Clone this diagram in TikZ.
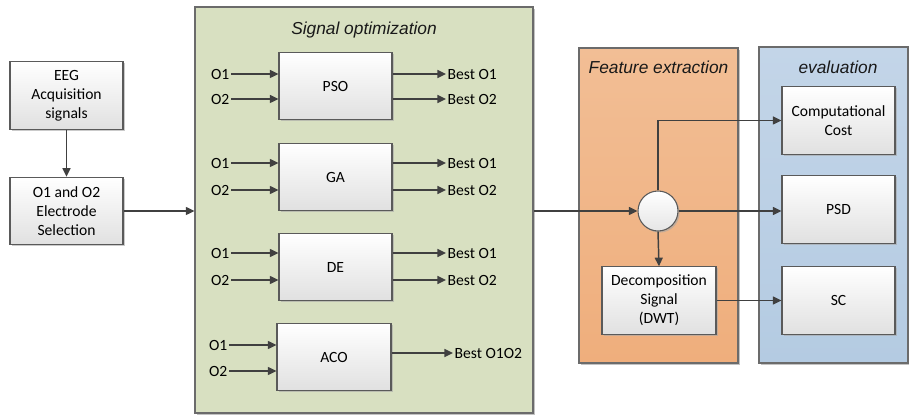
\documentclass[tikz,border=0pt]{standalone}
\usepackage{fontspec}
\setmainfont{Carlito}
\newfontfamily\titlefont{Liberation Sans}
\usetikzlibrary{arrows.meta,shadows}
\definecolor{linec}{HTML}{404040}
\definecolor{edgec}{HTML}{5A5A5A}
\definecolor{greenp}{HTML}{D8E0C1}
\definecolor{orangep}{HTML}{EFAE7C}
\definecolor{orangetop}{HTML}{F2BE95}
\definecolor{bluep}{HTML}{B4CBE2}
\definecolor{bluetop}{HTML}{C3D5E8}
\begin{document}
\begin{tikzpicture}[x=0.75pt,y=-0.75pt,
  txt/.style={font=\fontsize{11.7}{14.3}\selectfont, text=black},
  box/.style={txt, draw=edgec, line width=0.8pt, top color=white, bottom color=black!12,
    minimum width=84.75pt, minimum height=50.5pt, align=center, inner sep=1pt,
    drop shadow={shadow xshift=1.2pt, shadow yshift=-1.2pt, fill=black!35, opacity=0.6}},
  panel/.style={draw=edgec!90, line width=0.8pt, inner sep=0pt,
    drop shadow={shadow xshift=1.5pt, shadow yshift=-1.5pt, fill=black!40, opacity=0.6}},
  ptitle/.style={font=\titlefont\itshape\fontsize{13}{15}\selectfont, text=black!90},
  lbl/.style={txt, inner sep=1pt},
  arr/.style={draw=linec, line width=1.1pt, -{Triangle[length=6.5pt,width=6pt]}},
  ln/.style={draw=linec, line width=1.1pt}]
\useasboundingbox (0,0) rectangle (909,416);

% panels
\node[panel, fill=greenp, minimum width=253.5pt, minimum height=304.5pt] (green) at (364,210) {};
\node[panel, top color=orangetop, bottom color=orangep, minimum width=119.25pt, minimum height=236.25pt] (orange) at (658.5,205.5) {};
\node[panel, top color=bluetop, bottom color=bluep, minimum width=111.75pt, minimum height=237pt] (blue) at (833.5,205) {};
\node[ptitle] (t1) at (364,30) {Signal optimization};
\node[ptitle] (t2) at (658.5,67) {Feature extraction};
\node[ptitle] (t3) at (838,67) {evaluation};

% left boxes
\node[box] (eeg) at (66.5,95.5) {EEG\\Acquisition\\signals};
\node[box] (sel) at (66.5,211) {O1 and O2\\Electrode\\Selection};
\draw[arr] (eeg.south) -- (sel.north);
\draw[arr] (sel.east) -- (green.west |- sel.east);

% algorithm boxes
\node[box] (pso) at (335.5,86) {PSO};
\node[box] (ga) at (335.5,177) {GA};
\node[box] (de) at (335.5,267) {DE};
\node[box, minimum width=85.5pt] (aco) at (334,357) {ACO};

\foreach \b/\ya/\yb in {pso/74/99, ga/163/190, de/253/280}{
  \node[lbl, anchor=east] (\b i1) at (231,\ya) {O1};
  \node[lbl, anchor=east] (\b i2) at (231,\yb) {O2};
  \draw[arr] (\b i1.east) -- (\b.west |- \b i1.east);
  \draw[arr] (\b i2.east) -- (\b.west |- \b i2.east);
  \node[lbl, anchor=west] (\b o1) at (446,\ya) {Best O1};
  \node[lbl, anchor=west] (\b o2) at (446,\yb) {Best O2};
  \draw[arr] (\b.east |- \b o1.west) -- (\b o1.west);
  \draw[arr] (\b.east |- \b o2.west) -- (\b o2.west);
}
\node[lbl, anchor=east] (acoi1) at (229,345) {O1};
\node[lbl, anchor=east] (acoi2) at (229,371) {O2};
\draw[arr] (acoi1.east) -- (aco.west |- acoi1.east);
\draw[arr] (acoi2.east) -- (aco.west |- acoi2.east);
\node[lbl, anchor=west] (acoo) at (453,353) {Best O1O2};
\draw[arr] (aco.east |- acoo.west) -- (acoo.west);

% feature extraction
\node[circle, draw=edgec, line width=0.8pt, top color=white, bottom color=black!10,
  minimum size=30pt, inner sep=0pt,
  drop shadow={shadow xshift=1.2pt, shadow yshift=-1.2pt, fill=black!35, opacity=0.6}] (circ) at (658,211) {};
\node[box, minimum width=85.5pt] (dec) at (659,300.5) {Decomposition\\Signal\\(DWT)};

% evaluation
\node[box] (cc) at (838.5,120.5) {Computational\\Cost};
\node[box] (psd) at (838.5,209.5) {PSD};
\node[box] (sc) at (838.5,300.5) {SC};

\draw[arr] (green.east |- circ.west) -- (circ.west);
\draw[arr] (circ.north) |- (cc.west);
\draw[arr] (circ.east) -- (psd.west |- circ.east);
\draw[arr] (circ.south) -- (dec.north);
\draw[arr] (dec.east) -- (sc.west |- dec.east);
\end{tikzpicture}
\end{document}
